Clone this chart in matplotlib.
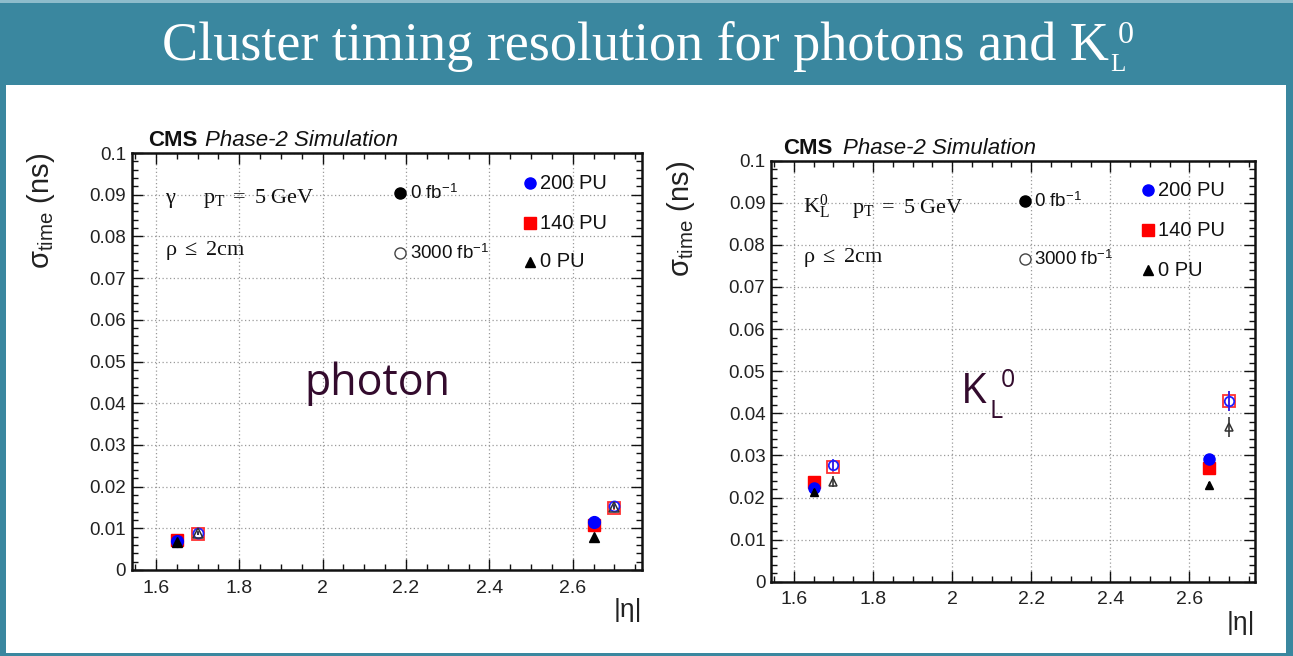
import matplotlib
matplotlib.use("Agg")
import matplotlib.pyplot as plt
from matplotlib.patches import Rectangle
from matplotlib.ticker import MultipleLocator

plt.rcParams['mathtext.fontset'] = 'custom'
plt.rcParams['mathtext.rm'] = 'Liberation Serif'
plt.rcParams['mathtext.it'] = 'Liberation Serif:italic'
plt.rcParams['mathtext.bf'] = 'Liberation Serif:bold'
plt.rcParams['mathtext.sf'] = 'Liberation Sans'

# ---- data -------------------------------------------------------------
eta_0fb = [1.65, 2.65]       # points before ageing
eta_3000fb = [1.70, 2.70]    # points after 3000 fb^-1 (shifted for visibility)
eta_ticks = [1.6, 1.8, 2.0, 2.2, 2.4, 2.6]
eta_tick_labels = ['1.6', '1.8', '2', '2.2', '2.4', '2.6']
sigma_ticks = [0.0, 0.01, 0.02, 0.03, 0.04, 0.05, 0.06, 0.07, 0.08, 0.09, 0.1]
sigma_tick_labels = ['0', '0.01', '0.02', '0.03', '0.04', '0.05', '0.06',
                     '0.07', '0.08', '0.09', '0.1']

# photons
photon_200pu_0fb = [0.0070, 0.0114]
photon_140pu_0fb = [0.0071, 0.0108]
photon_0pu_0fb = [0.0068, 0.0079]
photon_200pu_3000fb = [0.0088, 0.0153]
photon_140pu_3000fb = [0.0087, 0.0149]
photon_0pu_3000fb = [0.0089, 0.0152]
photon_err_0fb = [0.0003, 0.0004]
photon_err_3000fb = [0.0004, 0.0005]

# neutral kaons
kaon_200pu_0fb = [0.0223, 0.0291]
kaon_140pu_0fb = [0.0236, 0.0270]
kaon_0pu_0fb = [0.0214, 0.0230]
kaon_200pu_3000fb = [0.0277, 0.0430]
kaon_140pu_3000fb = [0.0273, 0.0429]
kaon_0pu_3000fb = [0.0238, 0.0368]
kaon_err_0fb = [0.0006, 0.0008]
kaon_err_3000fb = [0.0014, 0.0024]

W, H = 1293, 656
TEAL = '#3a879f'
PURPLE = '#330b2d'

fig = plt.figure(figsize=(W / 100, H / 100), dpi=100)
fig.patch.set_facecolor(TEAL)


def fx(x):
    return x / W


def fy(y):
    return 1 - y / H


# white content panel and thin highlight along the top of the banner
fig.add_artist(Rectangle((fx(6), fy(653)), fx(1286) - fx(6), fy(85) - fy(653),
                         transform=fig.transFigure, facecolor='white',
                         edgecolor='none', zorder=0))
fig.add_artist(Rectangle((0, fy(2.5)), 1, fy(0) - fy(2.5), transform=fig.transFigure,
                         facecolor='#8ebccb', edgecolor='none', zorder=0))

# banner title, with the K_L^0 indices placed after the main string
title_kw = dict(color='white', family='Liberation Serif', transform=fig.transFigure,
                ha='left', va='baseline')
title = fig.text(fx(162), fy(60), 'Cluster timing resolution for photons and K',
                 fontsize=39, **title_kw)
renderer = fig.canvas.get_renderer()
x_end = title.get_window_extent(renderer).x1
fig.text((x_end + 1) / W, fy(71), 'L', fontsize=18, **title_kw)
fig.text((x_end + 9) / W, fy(43), '0', fontsize=23, **title_kw)


def style_axes(ax):
    ax.set_xlim(1.542, 2.766)
    ax.set_ylim(0.0, 0.1)
    ax.set_xticks(eta_ticks)
    ax.set_xticklabels(eta_tick_labels)
    ax.set_yticks(sigma_ticks)
    ax.set_yticklabels(sigma_tick_labels)
    ax.xaxis.set_minor_locator(MultipleLocator(0.05))
    ax.yaxis.set_minor_locator(MultipleLocator(0.002))
    ax.tick_params(which='both', direction='in', top=True, right=True,
                   colors='#111111', width=1.0)
    ax.tick_params(which='major', length=8)
    ax.tick_params(which='minor', length=4.5)
    ax.tick_params(axis='y', which='major', labelsize=13.5, pad=4,
                   labelcolor='#222222')
    ax.tick_params(axis='x', which='major', labelsize=14, pad=7,
                   labelcolor='#222222')
    for lab in ax.get_xticklabels() + ax.get_yticklabels():
        lab.set_family('Liberation Sans')
    for sp in ax.spines.values():
        sp.set_linewidth(1.8)
        sp.set_color('#111111')
    ax.grid(True, which='major', linestyle=(0, (1, 2)), color='#9a9a9a',
            linewidth=0.9)
    ax.set_axisbelow(True)
    ax.set_ylabel(r'$\mathsf{\sigma_{time}}$ (ns)', family='Liberation Sans',
                  fontsize=21, loc='top', color='#222222')
    ax.set_xlabel('|η|', family='Liberation Sans', fontsize=19, loc='right',
                  color='#222222')


def draw_points(ax, v200, v140, v0, v200a, v140a, v0a, e0, e3000, ms):
    ekw = dict(linestyle='none', elinewidth=1.2, capsize=0)
    # 0 fb^-1: filled markers
    ax.errorbar(eta_0fb, v140, yerr=e0, marker='s', ms=ms, color='#ff0000',
                zorder=3, **ekw)
    ax.errorbar(eta_0fb, v200, yerr=e0, marker='o', ms=ms, color='#0000ff',
                zorder=4, **ekw)
    ax.errorbar(eta_0fb, v0, yerr=e0, marker='^', ms=ms * 0.8, color='black',
                zorder=5, **ekw)
    # 3000 fb^-1: open markers
    ax.errorbar(eta_3000fb, v140a, yerr=e3000, marker='s', ms=ms, color='#ff3030',
                mfc='none', mew=1.3, zorder=3, **ekw)
    ax.errorbar(eta_3000fb, v200a, yerr=e3000, marker='o', ms=ms * 0.85,
                color='#2020ff', mfc='none', mew=1.3, zorder=4, **ekw)
    ax.errorbar(eta_3000fb, v0a, yerr=e3000, marker='^', ms=ms * 0.8,
                color='#333333', mfc='none', mew=1.1, zorder=5, **ekw)


def draw_key(ax, x_ring, x_pu, y_fb, y_pu):
    tkw = dict(transform=ax.transAxes, family='Liberation Sans', va='center',
               ha='left', color='#111111')
    ax.plot([x_ring], [y_fb[0]], 'o', ms=8, color='black', transform=ax.transAxes)
    ax.plot([x_ring], [y_fb[1]], 'o', ms=8, mfc='white', mec='#444444', mew=1.0,
            transform=ax.transAxes)
    ax.text(x_ring + 0.019, y_fb[0], '0 fb$^{\\mathsf{-1}}$', fontsize=13.5, **tkw)
    ax.text(x_ring + 0.019, y_fb[1], '3000 fb$^{\\mathsf{-1}}$', fontsize=13.5, **tkw)
    ax.plot([x_pu], [y_pu[0]], 'o', ms=8, color='#0000ff', transform=ax.transAxes)
    ax.plot([x_pu], [y_pu[1]], 's', ms=8, color='#ff0000', transform=ax.transAxes)
    ax.plot([x_pu], [y_pu[2]], '^', ms=7, color='black', transform=ax.transAxes)
    for y, t in zip(y_pu, ['200 PU', '140 PU', '0 PU']):
        ax.text(x_pu + 0.021, y, t, fontsize=14.5, **tkw)


def cms_label(ax, x_cms, x_sim, y):
    ax.text(x_cms, y, 'CMS', transform=ax.transAxes, family='Liberation Sans',
            fontweight='bold', fontsize=16, va='baseline', color='#111111')
    ax.text(x_sim, y, 'Phase-2 Simulation', transform=ax.transAxes,
            family='Liberation Sans', style='italic', fontsize=16,
            va='baseline', color='#111111')


# ---- photon panel -------------------------------------------------------
ax1 = fig.add_axes([fx(131.7), fy(570), fx(642) - fx(131.7), fy(153) - fy(570)])
style_axes(ax1)
ax1.yaxis.set_label_coords(-0.147, 1.0)
ax1.xaxis.set_label_coords(1.0, -0.068)
draw_points(ax1, photon_200pu_0fb, photon_140pu_0fb, photon_0pu_0fb,
            photon_200pu_3000fb, photon_140pu_3000fb, photon_0pu_3000fb,
            photon_err_0fb, photon_err_3000fb, ms=8.5)
draw_key(ax1, 0.526, 0.780, [0.904, 0.760], [0.928, 0.832, 0.739])
cms_label(ax1, 0.032, 0.144, 1.016)
ax1.text(0.065, 0.881, r'$\mathrm{\gamma}$', transform=ax1.transAxes,
         fontsize=16, va='baseline', color='#111111')
ax1.text(0.14, 0.881, r'$\mathrm{p_T\ =\ 5\ GeV}$', transform=ax1.transAxes,
         fontsize=16, va='baseline', color='#111111')
ax1.text(0.065, 0.755, r'$\mathrm{\rho\ \leq\ 2cm}$', transform=ax1.transAxes,
         fontsize=16, va='baseline', color='#111111')

# ---- neutral kaon panel ---------------------------------------------------
ax2 = fig.add_axes([fx(771), fy(581.7), fx(1255) - fx(771), fy(160.7) - fy(581.7)])
style_axes(ax2)
ax2.yaxis.set_label_coords(-0.153, 1.0)
ax2.xaxis.set_label_coords(1.0, -0.07)
draw_points(ax2, kaon_200pu_0fb, kaon_140pu_0fb, kaon_0pu_0fb,
            kaon_200pu_3000fb, kaon_140pu_3000fb, kaon_0pu_3000fb,
            kaon_err_0fb, kaon_err_3000fb, ms=8)
draw_key(ax2, 0.525, 0.779, [0.904, 0.766], [0.930, 0.835, 0.740])
cms_label(ax2, 0.025, 0.149, 1.016)
ax2.text(0.066, 0.876, r'$\mathrm{K_L^0}$', transform=ax2.transAxes,
         fontsize=16, va='baseline', color='#111111')
ax2.text(0.167, 0.876, r'$\mathrm{p_T\ =\ 5\ GeV}$', transform=ax2.transAxes,
         fontsize=16, va='baseline', color='#111111')
ax2.text(0.066, 0.759, r'$\mathrm{\rho\ \leq\ 2cm}$', transform=ax2.transAxes,
         fontsize=16, va='baseline', color='#111111')

# ---- panel captions -------------------------------------------------------
cap_kw = dict(color=PURPLE, family='Open Sans', transform=fig.transFigure,
              ha='left', va='baseline')
fig.text(fx(304), fy(395), 'photon', fontsize=31, **cap_kw)
fig.text(fx(961), fy(403), 'K', fontsize=30, **cap_kw)
fig.text(fx(989), fy(418), 'L', fontsize=18, **cap_kw)
fig.text(fx(1001), fy(387), '0', fontsize=18, **cap_kw)

fig.savefig('out.png', dpi=100, facecolor=fig.get_facecolor())
